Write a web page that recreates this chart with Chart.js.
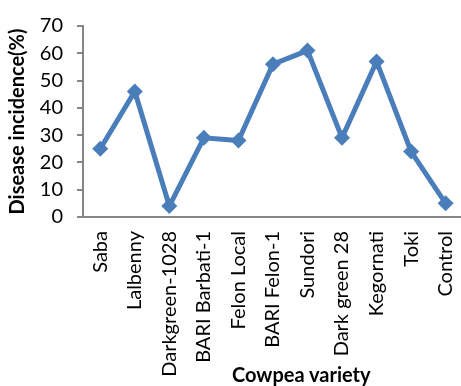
<!DOCTYPE html>
<html lang="en">
<head>
    <meta charset="UTF-8">
    <title>Disease incidence by cowpea variety</title>
    <script src="https://cdn.jsdelivr.net/npm/chart.js"></script>
    <style>
        html, body {
            margin: 0;
            padding: 0;
            background: #ffffff;
            overflow: hidden;
        }
        .chart-container {
            position: relative;
            width: 484px;
            height: 386px;
        }
        .x-title {
            position: absolute;
            left: 232px;
            top: 362px;
            font-family: Lato, "Open Sans", sans-serif;
            font-size: 20px;
            font-weight: bold;
            line-height: 24px;
            color: #000000;
            white-space: nowrap;
        }
    </style>
</head>
<body>
    <div class="chart-container">
        <canvas id="incidenceChart"></canvas>
        <div class="x-title">Cowpea variety</div>
    </div>

    <script>
        // cowpea varieties and disease incidence (%)
        const varieties = ['Saba', 'Lalbenny', 'Darkgreen-1028', 'BARI Barbati-1', 'Felon Local',
            'BARI Felon-1', 'Sundori', 'Dark green 28', 'Kegornati', 'Toki', 'Control'];
        const incidence = [25, 46, 4, 29, 28, 56, 61, 29, 57, 24, 5];
        const yTicks = [0, 10, 20, 30, 40, 50, 60, 70];

        const fontFamily = 'Lato, "Open Sans", sans-serif';
        const axisGrey = '#868686';
        const lineBlue = '#4A7EBB';

        const ctx = document.getElementById('incidenceChart').getContext('2d');
        new Chart(ctx, {
            type: 'line',
            data: {
                labels: varieties,
                datasets: [{
                    label: 'Disease incidence',
                    data: incidence,
                    borderColor: lineBlue,
                    backgroundColor: lineBlue,
                    borderWidth: 5,
                    pointStyle: 'rectRot',
                    pointRadius: 8,
                    pointBorderWidth: 0,
                    tension: 0,
                    fill: false
                }]
            },
            options: {
                responsive: true,
                maintainAspectRatio: false,
                animation: false,
                layout: {
                    padding: { top: 18, right: 0, left: 0, bottom: 0 }
                },
                plugins: {
                    legend: { display: false },
                    tooltip: { enabled: false }
                },
                scales: {
                    x: {
                        offset: true,
                        grid: { display: false, drawTicks: false },
                        border: { display: true, color: axisGrey, width: 2 },
                        ticks: {
                            color: '#000000',
                            font: { family: fontFamily, size: 20 },
                            maxRotation: 90,
                            minRotation: 90,
                            autoSkip: false,
                            padding: 14
                        },
                        // title drawn as the .x-title element (off-centre in the original)
                        title: { display: false },
                        afterFit: function (scale) {
                            scale.height = 169;
                        }
                    },
                    y: {
                        min: 0,
                        max: 70,
                        afterBuildTicks: function (scale) {
                            scale.ticks = yTicks.map(v => ({ value: v }));
                        },
                        grid: {
                            drawOnChartArea: false,
                            drawTicks: true,
                            tickLength: 6,
                            color: axisGrey,
                            lineWidth: 2
                        },
                        border: { display: true, color: axisGrey, width: 2 },
                        ticks: {
                            color: '#000000',
                            font: { family: fontFamily, size: 20 },
                            padding: 14
                        },
                        title: {
                            display: true,
                            text: 'Disease incidence(%)',
                            color: '#000000',
                            font: { family: fontFamily, size: 20, weight: 'bold' },
                            padding: { top: 6, bottom: 0 }
                        },
                        afterFit: function (scale) {
                            scale.width = 83;
                        }
                    }
                }
            }
        });
    </script>
</body>
</html>
